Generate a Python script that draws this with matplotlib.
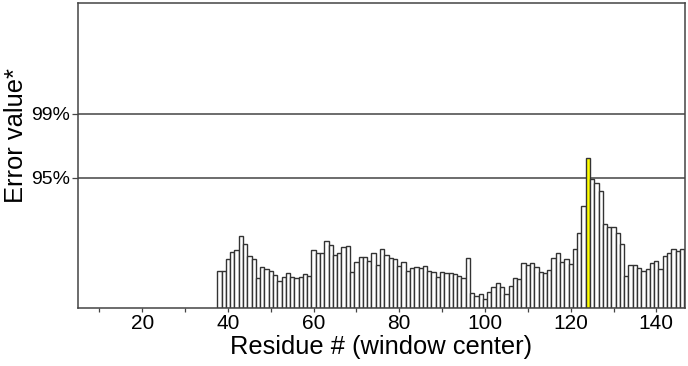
import numpy as np
import matplotlib
matplotlib.use("Agg")
import matplotlib.pyplot as plt

# residues (window centers) and error values
first_residue = 38
last_residue = 146
error_values = [
    37, 37, 49, 56, 58, 72, 64, 52, 49, 30, 41, 39, 37, 33, 27, 31, 35, 31,
    30, 31, 34, 32,
    58, 55, 55, 67, 63, 53, 55, 61, 62, 36, 46, 51, 51, 47, 55,
    43, 59, 53, 50, 49, 42, 46, 37, 40, 41, 40, 42, 37, 36, 31, 36, 35, 35, 34, 32, 30,
    50,
    15, 12, 14, 9, 16, 21, 25, 21, 14, 22, 30, 29,
    45, 43, 45, 41, 36, 35, 38, 50, 55, 46, 49, 44, 59, 75, 102, 150,
    129, 125, 117, 84, 81, 81, 75, 64, 32, 43, 43, 40, 37, 39, 45, 47, 39, 52, 55, 59, 57, 59,
]
highlight_residue = 124

# significance thresholds
threshold_values = [130, 194]
threshold_labels = ["95%", "99%"]

x_ticks = [20, 40, 60, 80, 100, 120, 140]

residues = np.arange(first_residue, last_residue + 1)
colors = ["#ffff00" if r == highlight_residue else "white" for r in residues]

plt.rcParams["font.family"] = ["Liberation Sans", "DejaVu Sans"]

fig = plt.figure(figsize=(6.88, 3.66), dpi=100)
ax = fig.add_axes([0.1134, 0.1585, 0.8823, 0.8333])

for yv in threshold_values:
    ax.axhline(yv, color="#444444", lw=1.1, zorder=1)

ax.bar(residues, error_values, width=1.0, color=colors,
       edgecolor="#333333", linewidth=1.0, zorder=2)

ax.set_xlim(5.0, 146.7)
ax.set_ylim(0, 305)

ax.set_xticks(x_ticks)
ax.set_xticks(np.arange(10, 150, 20), minor=True)
ax.tick_params(axis="x", which="both", direction="out", length=3,
               width=0.9, color="#444444", labelsize=15, pad=1)
ax.set_yticks(threshold_values)
ax.set_yticklabels(threshold_labels)
ax.tick_params(axis="y", direction="out", length=4, width=0.9,
               color="#444444", labelsize=14, pad=2)

for sp in ax.spines.values():
    sp.set_color("#444444")
    sp.set_linewidth(1.1)

ax.set_xlabel("Residue # (window center)", fontsize=18.4, labelpad=2)
ax.set_ylabel("Error value*", fontsize=18.4)
ax.yaxis.set_label_coords(-0.083, 0.565)

fig.savefig("out.png", dpi=100)
